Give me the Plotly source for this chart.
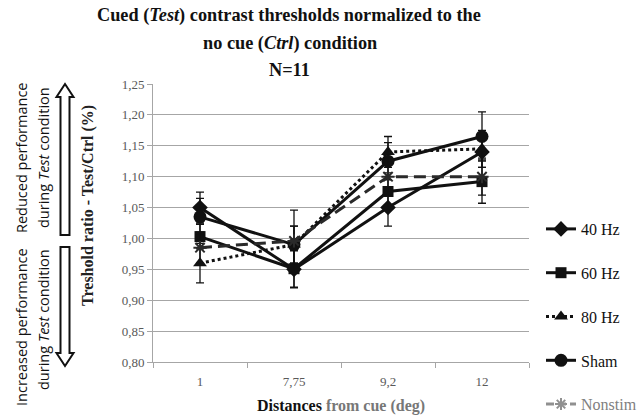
import plotly.graph_objects as go

# ---------------- data ----------------
distances = ["1", "7,75", "9,2", "12"]
series_names = ["40 Hz", "60 Hz", "80 Hz", "Sham", "Nonstim"]
hz40 = [1.05, 0.95, 1.05, 1.14]
hz60 = [1.003, 0.951, 1.076, 1.092]
hz80 = [0.96, 0.99, 1.14, 1.145]
sham = [1.035, 0.99, 1.125, 1.165]
nonstim = [0.985, 0.996, 1.10, 1.10]
err40 = [0.025, 0.03, 0.03, 0.025]
err60 = [0.02, 0.03, 0.03, 0.035]
err80 = [0.032, 0.03, 0.025, 0.03]
errsham = [0.03, 0.03, 0.03, 0.04]
errnon = [0.025, 0.05, 0.03, 0.03]
y_ticks = [0.80, 0.85, 0.90, 0.95, 1.00, 1.05, 1.10, 1.15, 1.20, 1.25]

# ---------------- geometry helpers ----------------
W, H = 643, 418
L, R, T, B = 153, 529, 84, 362


def px(x):
    return (x - L) / (R - L)


def py(y):
    return (B - y) / (B - T)


SERIF = "Liberation Serif"
SANS = "Open Sans"

fig = go.Figure()

styles = [
    (hz40, err40, "40 Hz", "diamond", 12, "solid", "#111111"),
    (hz60, err60, "60 Hz", "square", 11, "solid", "#111111"),
    (hz80, err80, "80 Hz", "triangle-up", 12, "dot", "#111111"),
    (sham, errsham, "Sham", "circle", 13, "solid", "#111111"),
]
for vals, errs, name, sym, size, dash, col in styles:
    fig.add_trace(go.Scatter(
        x=distances, y=vals, name=name, mode="lines+markers",
        legendgroup=name,
        line=dict(color=col, width=3, dash=dash),
        marker=dict(symbol=sym, size=size, color=col),
        error_y=dict(type="data", array=errs, visible=True,
                     color="#111111", thickness=1.3, width=4),
    ))

fig.add_trace(go.Scatter(
    x=distances, y=nonstim, name="Nonstim", mode="lines+markers",
    showlegend=False,
    line=dict(color="#2a2a2a", width=3, dash="12px,6px"),
    marker=dict(symbol="asterisk-open", size=11,
                line=dict(color="#2a2a2a", width=2)),
    error_y=dict(type="data", array=errnon, visible=True,
                 color="#111111", thickness=1.3, width=4),
))
fig.add_trace(go.Scatter(
    x=[None], y=[None], mode="lines+markers", legendgroup="Nonstim",
    name="<span style='color:#808080'>Nonstim</span>",
    line=dict(color="#909090", width=3, dash="8px,4px"),
    marker=dict(symbol="asterisk-open", size=10,
                line=dict(color="#808080", width=2)),
))


def ann(x, y, text, size, family, angle=0, color="#111111"):
    return dict(x=px(x), y=py(y), xref="paper", yref="paper", text=text,
                textangle=angle, showarrow=False,
                xanchor="center", yanchor="middle",
                font=dict(family=family, size=size, color=color))


annotations = [
    ann(289, 16, "<b>Cued (<i>Test</i>) contrast thresholds normalized to the</b>", 18.3, SERIF),
    ann(290, 43, "<b>no cue (<i>Ctrl</i>) condition</b>", 18.3, SERIF),
    ann(289, 70, "<b>N=11</b>", 18.3, SERIF),
    ann(88, 206, "<b>Treshold ratio - Test/Ctrl (%)</b>", 16, SERIF, angle=-90, color="#222222"),
    ann(341, 406, "<b>Distances <span style='color:#777777'>from cue (deg)</span></b>", 16, SERIF),
    ann(21, 158, "Reduced performance", 14.5, SANS, angle=-90),
    ann(43, 158, "during <i>Test</i> condition", 14.5, SANS, angle=-90),
    ann(21, 327, "Increased performance", 14.5, SANS, angle=-90),
    ann(43, 320, "during <i>Test</i> condition", 14.5, SANS, angle=-90),
]


def arrow_path(xc, y_tip, y_base, up=True):
    hw, sw, hh = 8.5, 4.5, 13
    d = -1 if up else 1
    yh = y_tip - d * hh
    pts = [(xc, y_tip), (xc + hw, yh), (xc + sw, yh), (xc + sw, y_base),
           (xc - sw, y_base), (xc - sw, yh), (xc - hw, yh)]
    return "M " + " L ".join(f"{px(a):.5f},{py(b):.5f}" for a, b in pts) + " Z"


shapes = [
    dict(type="path", xref="paper", yref="paper", path=arrow_path(65, 84, 235, True),
         line=dict(color="#111111", width=2), fillcolor="white"),
    dict(type="path", xref="paper", yref="paper", path=arrow_path(65, 366, 247, False),
         line=dict(color="#111111", width=2), fillcolor="white"),
]

fig.update_layout(
    width=W, height=H,
    margin=dict(l=L, r=W - R, t=T, b=H - B, pad=0, autoexpand=False),
    paper_bgcolor="white", plot_bgcolor="white",
    separators=", ",
    font=dict(family=SERIF),
    showlegend=True,
    legend=dict(xref="container", yref="container",
                x=541 / W, y=1 - 212 / H, xanchor="left", yanchor="top",
                font=dict(family=SERIF, size=16, color="#111111"),
                tracegroupgap=20, bgcolor="rgba(0,0,0,0)"),
    annotations=annotations,
    shapes=shapes,
    xaxis=dict(type="category", showgrid=False, showline=True,
               linecolor="#a6a6a6", linewidth=1, automargin=False,
               ticks="outside", tickson="boundaries", ticklen=5,
               tickcolor="#a6a6a6", ticklabelstandoff=7,
               tickfont=dict(family=SERIF, size=13, color="#595959"),
               range=[-0.5, 3.5]),
    yaxis=dict(range=[0.80, 1.25], tickvals=y_ticks, tickformat=".2f",
               automargin=False,
               showgrid=True, gridcolor="#a6a6a6", gridwidth=1,
               showline=True, linecolor="#a6a6a6", linewidth=1,
               ticks="outside", ticklen=5, tickcolor="#a6a6a6",
               tickfont=dict(family=SERIF, size=13, color="#595959"),
               zeroline=False),
)

fig.write_html("out.html", config={"displayModeBar": False},
               post_script="document.body.style.margin='0';document.body.style.padding='0';")
